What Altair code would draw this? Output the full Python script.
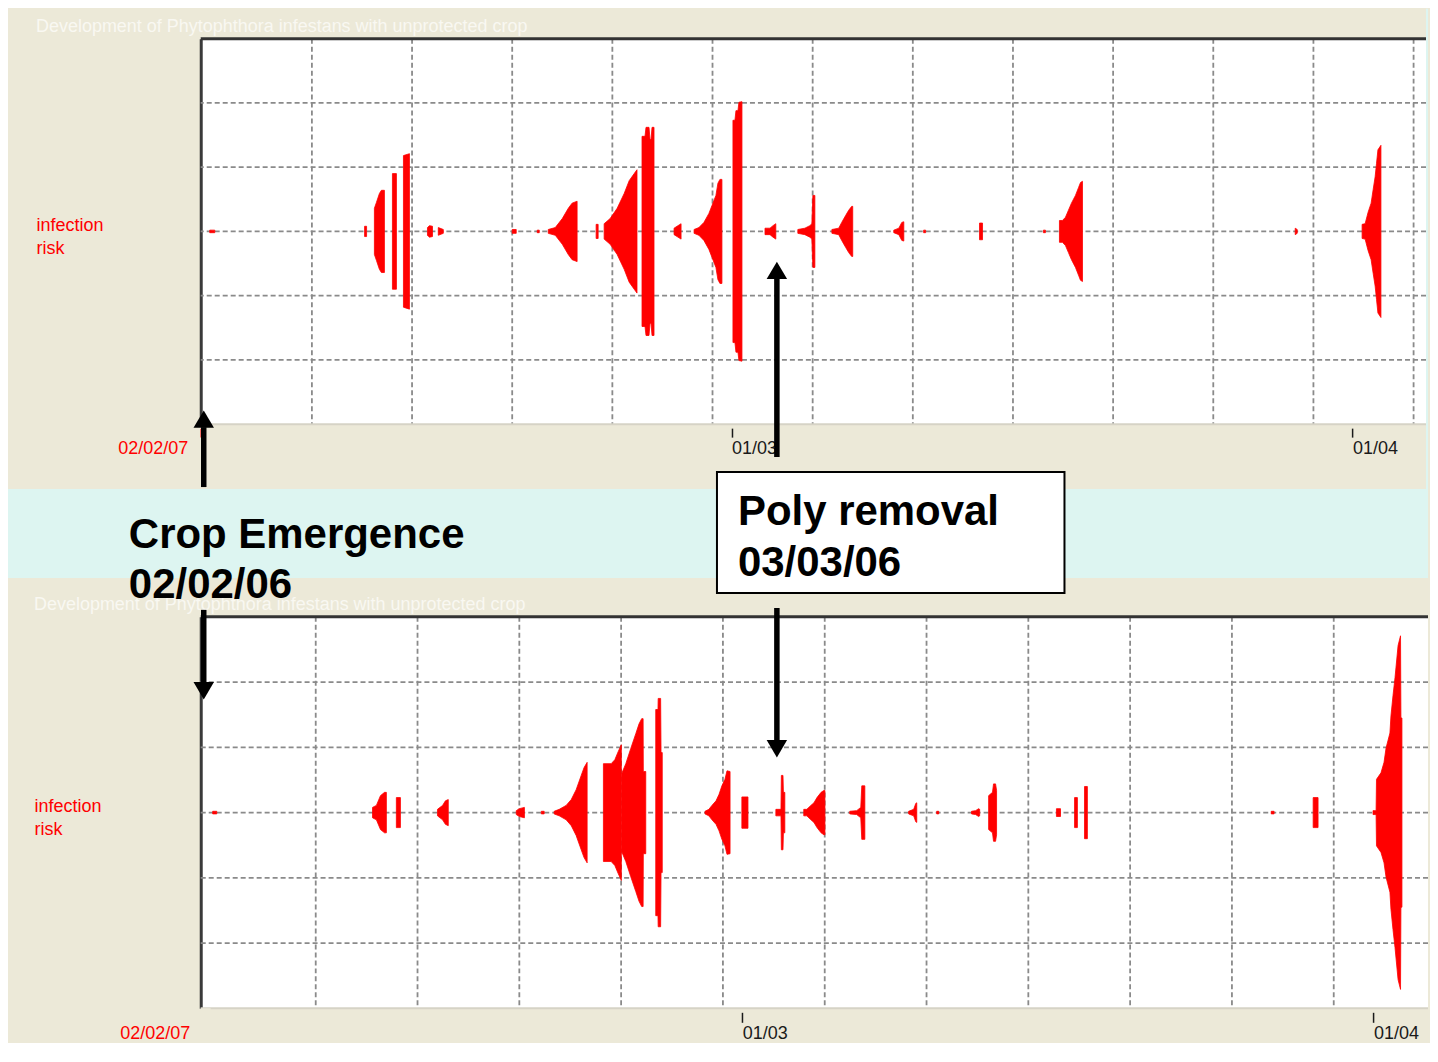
import altair as alt
import pandas as pd

# ---------------------------------------------------------------- text
PANEL_TITLE = "Development of Phytophthora infestans with unprotected crop"
Y_TITLE = ["infection", "risk"]
START_LABEL = "02/02/07"
CROP_TEXT = ["Crop Emergence", "02/02/06"]
POLY_TEXT = ["Poly removal", "03/03/06"]

# ---------------------------------------------------------------- axis values (days after 02/02 00:00)
label_days = [0.5, 27, 58]            # 02/02/07, 01/03, 01/04
grid_days = [6.05, 11.05, 16.05, 21.05, 26.05, 31.05, 36.05, 41.05, 46.05, 51.05, 56.05, 61.05]
grid_levels = [-2, -1, 0, 1, 2]

crop_emergence_day = 0.55
poly_removal_day = 28.7

# ---------------------------------------------------------------- infection risk, upper chart
# each inner list is one infection period: day, risk (drawn mirrored around 0)
top_days = [
    [0.95, 1.20], [8.68, 8.78], [9.17, 9.27, 9.42, 9.52, 9.67], [10.07, 10.27], [10.62, 10.92],
    [11.82, 11.92, 12.07], [12.36, 12.61], [16.05, 16.25], [17.30, 17.40],
    [17.85, 18.20, 18.55, 18.85, 19.04, 19.29], [20.24, 20.34],
    [20.64, 20.94, 21.29, 21.64, 21.89, 22.14, 22.28],
    [22.53, 22.68, 22.73, 22.88, 22.93, 22.98, 23.03, 23.13], [24.13, 24.28, 24.48],
    [25.13, 25.37, 25.62, 25.87, 26.02, 26.22, 26.32, 26.42, 26.52],
    [27.07, 27.17, 27.22, 27.32, 27.37, 27.52], [28.67, 28.92, 29.07, 29.21],
    [30.31, 30.66, 30.91, 31.01, 31.06, 31.16], [32.01, 32.35, 32.50, 32.70, 32.85, 33.00, 33.05],
    [35.10, 35.35, 35.50, 35.60], [36.59, 36.69], [39.38, 39.53], [42.57, 42.67],
    [43.37, 43.52, 43.67, 43.82, 43.97, 44.17, 44.32, 44.42, 44.52], [55.14, 55.24],
    [58.48, 58.63, 58.78, 58.93, 59.03, 59.13, 59.20, 59.27, 59.42],
]
top_risks = [
    [0.02, 0.02], [0.08, 0.08], [0.36, 0.45, 0.59, 0.64, 0.64], [0.90, 0.90], [1.18, 1.21],
    [0.06, 0.09, 0.08], [0.06, 0.03], [0.03, 0.03], [0.02, 0.02],
    [0.03, 0.06, 0.20, 0.36, 0.44, 0.47], [0.11, 0.11],
    [0.12, 0.20, 0.36, 0.59, 0.79, 0.90, 0.96],
    [1.48, 1.48, 1.62, 1.62, 1.43, 1.43, 1.62, 1.62], [0.05, 0.08, 0.12],
    [0.03, 0.06, 0.14, 0.28, 0.40, 0.56, 0.75, 0.81, 0.81],
    [1.73, 1.73, 1.88, 1.88, 2.01, 2.02], [0.05, 0.05, 0.09, 0.12],
    [0.03, 0.05, 0.09, 0.12, 0.56, 0.56], [0.03, 0.05, 0.14, 0.25, 0.33, 0.39, 0.39],
    [0.02, 0.05, 0.14, 0.15], [0.02, 0.02], [0.13, 0.13], [0.02, 0.02],
    [0.17, 0.17, 0.22, 0.33, 0.44, 0.56, 0.68, 0.76, 0.78], [0.05, 0.03],
    [0.11, 0.12, 0.30, 0.44, 0.65, 0.85, 1.06, 1.27, 1.34],
]

# ---------------------------------------------------------------- infection risk, lower chart
bot_days = [
    [0.99, 1.19], [8.84, 9.03, 9.23, 9.43, 9.52], [10.01, 10.21], [12.03, 12.28, 12.42, 12.56],
    [15.90, 16.05, 16.30], [17.13, 17.27], [17.76, 18.01, 18.35, 18.60, 18.84, 19.09, 19.23, 19.38],
    [20.18, 20.56, 20.74, 20.90, 21.06],
    [21.08, 21.28, 21.52, 21.77, 21.93, 22.06, 22.13, 22.14, 22.26],
    [22.75, 22.86, 22.87, 22.99, 23.01, 23.07],
    [25.17, 25.36, 25.51, 25.71, 25.86, 26.00, 26.15, 26.25, 26.40], [26.98, 27.28],
    [28.65, 28.90, 28.92, 29.00, 29.02, 29.09],
    [30.02, 30.17, 30.37, 30.52, 30.67, 30.87, 31.01, 31.06],
    [32.28, 32.62, 32.82, 32.87, 33.02], [35.17, 35.42, 35.52, 35.57], [36.55, 36.65],
    [38.26, 38.46, 38.61, 38.66], [39.10, 39.29, 39.34, 39.44, 39.49], [42.43, 42.63],
    [43.32, 43.46], [43.81, 43.95], [52.98, 53.12], [55.04, 55.28],
    [57.98, 58.13, 58.15, 58.37, 58.52, 58.62, 58.81, 58.86, 58.96, 59.06, 59.21, 59.33, 59.35, 59.40],
]
bot_risks = [
    [0.02, 0.02], [0.08, 0.11, 0.26, 0.31, 0.31], [0.23, 0.23], [0.05, 0.11, 0.18, 0.20],
    [0.03, 0.06, 0.08], [0.02, 0.02], [0.02, 0.05, 0.11, 0.20, 0.35, 0.57, 0.69, 0.77],
    [0.75, 0.75, 0.81, 0.93, 1.04],
    [0.60, 0.75, 0.98, 1.21, 1.36, 1.44, 1.44, 0.63, 0.63],
    [1.58, 1.58, 1.75, 1.75, 0.92, 0.92],
    [0.02, 0.05, 0.11, 0.18, 0.28, 0.41, 0.51, 0.64, 0.63], [0.24, 0.24],
    [0.05, 0.05, 0.57, 0.57, 0.31, 0.31],
    [0.05, 0.05, 0.11, 0.15, 0.23, 0.31, 0.34, 0.34],
    [0.02, 0.03, 0.08, 0.41, 0.41], [0.02, 0.05, 0.14, 0.15], [0.02, 0.02],
    [0.02, 0.03, 0.06, 0.05], [0.26, 0.31, 0.44, 0.44, 0.34], [0.06, 0.06],
    [0.23, 0.23], [0.40, 0.40], [0.02, 0.02], [0.23, 0.23],
    [0.03, 0.03, 0.51, 0.61, 0.77, 0.99, 1.22, 1.48, 1.79, 2.07, 2.56, 2.71, 1.45, 1.45],
]

# ---------------------------------------------------------------- styles
RED = "#ff0000"
DARK = "#1a1a1a"
BEIGE = "#ece9d8"
CYAN = "#ddf5f1"
GRID = "#8a8a8a"
FONT = "Liberation Sans"
IS_START = "datum.value < 1"


def frame(days, risks):
    rows = []
    for i, (ds, rs) in enumerate(zip(days, risks)):
        for d, r in zip(ds, rs):
            rows.append({"event": i, "day": d, "risk": r})
    return pd.DataFrame(rows)


def panel(days, risks, width, height, x_domain, title_x, ytitle_y, tick_size, extra_layers):
    xs = alt.Scale(domain=x_domain, nice=False, zero=False)
    ys = alt.Scale(domain=[-3, 3], nice=False, zero=False)

    x_axis = alt.Axis(
        values=label_days,
        labelExpr=f"datum.value < 1 ? '{START_LABEL}' : (datum.value < 40 ? '01/03' : '01/04')",
        labelColor={"condition": {"test": IS_START, "value": RED}, "value": DARK},
        labelAlign={"condition": {"test": IS_START, "value": "right"}, "value": "left"},
        labelOffset={"condition": {"test": IS_START, "value": -13}, "value": 0},
        tickColor={"condition": {"test": IS_START, "value": RED}, "value": DARK},
        tickWidth=1.5, tickSize=tick_size, offset=4, domain=False, grid=False,
        labelFont=FONT, labelFontSize=18, labelPadding=2, labelBaseline="top",
        labelFlush=False, labelOverlap=False, labelBound=False, title=None,
    )
    y_axis = alt.Axis(
        ticks=False, labels=False, grid=False, domain=True,
        domainColor="#3a3a3a", domainWidth=3,
        title=Y_TITLE, titleAngle=0, titleAlign="left", titleBaseline="alphabetic",
        titleX=title_x, titleY=ytitle_y, titleColor=RED, titleFont=FONT,
        titleFontSize=18, titleFontWeight="normal", titleLineHeight=23,
    )
    X = alt.X("day:Q", scale=xs, axis=x_axis)

    def Y(field):
        return alt.Y(field, scale=ys, axis=y_axis)

    vgrid = alt.Chart(pd.DataFrame({"day": grid_days})).mark_rule(
        color=GRID, strokeDash=[5, 3], strokeWidth=1.8, clip=True
    ).encode(x=X)
    hgrid = alt.Chart(pd.DataFrame({"level": grid_levels})).mark_rule(
        color=GRID, strokeDash=[5, 3], strokeWidth=1.8
    ).encode(y=Y("level:Q"))

    risk = alt.Chart(frame(days, risks)).transform_calculate(
        lo="-datum.risk"
    ).mark_area(
        color=RED, stroke=RED, strokeWidth=0.8, interpolate="linear", clip=True
    ).encode(x=X, y=Y("risk:Q"), y2="lo:Q", detail="event:N")

    top_border = alt.Chart(pd.DataFrame({"level": [3]})).mark_rule(
        color="#333333", strokeWidth=3
    ).encode(y=Y("level:Q"))
    bottom_border = alt.Chart(pd.DataFrame({"level": [-3]})).mark_rule(
        color="#d6d3c6", strokeWidth=2
    ).encode(y=Y("level:Q"))

    title = alt.Chart(pd.DataFrame({"t": [PANEL_TITLE]})).mark_text(
        align="left", baseline="alphabetic", font=FONT, fontSize=18, color="#f9f8f2"
    ).encode(x=alt.value(title_x), y=alt.value(-7), text="t:N")

    layers = [hgrid, vgrid, risk, top_border, bottom_border, title] + extra_layers(X, width, height)
    return alt.layer(*layers).properties(width=width, height=height)


def top_extras(X, width, height):
    band = alt.Chart(pd.DataFrame({"k": [0]})).mark_rect(color=CYAN).encode(
        x=alt.value(-193), x2=alt.value(width + 2), y=alt.value(height + 65), y2=alt.value(height + 154)
    )
    strip = alt.Chart(pd.DataFrame({"k": [0]})).mark_rect(color=CYAN).encode(
        x=alt.value(width), x2=alt.value(width + 2), y=alt.value(-30), y2=alt.value(height + 65)
    )
    return [band, strip]


HEAD_UP = "M-1,0.85L0,-0.85L1,0.85Z"
HEAD_DOWN = "M-1,-0.85L0,0.85L1,-0.85Z"


def bottom_extras(X, width, height):
    crop = pd.DataFrame({"day": [crop_emergence_day]})
    poly = pd.DataFrame({"day": [poly_removal_day]})

    def shaft(df, y1, y2):
        return alt.Chart(df).mark_rule(color="black", strokeWidth=5.5).encode(
            x=X, y=alt.value(y1), y2=alt.value(y2))

    def head(df, y, shape):
        return alt.Chart(df).mark_point(
            shape=shape, filled=True, color="black", opacity=1, size=420, strokeWidth=0
        ).encode(x=X, y=alt.value(y))

    # beige footer under the lower chart
    footer = alt.Chart(pd.DataFrame({"k": [0]})).mark_rect(color=BEIGE).encode(
        x=alt.value(0), x2=alt.value(10), y=alt.value(height), y2=alt.value(height + 32)
    )

    box = alt.Chart(poly).mark_rect(
        fill="white", stroke="black", strokeWidth=2, xOffset=-60, x2Offset=288
    ).encode(x=X, x2="day:Q", y=alt.value(-145), y2=alt.value(-24))

    crop_text = alt.Chart(crop).mark_text(
        align="left", baseline="alphabetic", font=FONT, fontSize=42,
        fontWeight="bold", color="black", lineHeight=50, dx=-75
    ).encode(x=X, y=alt.value(-69), text=alt.value(CROP_TEXT))
    poly_text = alt.Chart(poly).mark_text(
        align="left", baseline="alphabetic", font=FONT, fontSize=42,
        fontWeight="bold", color="black", lineHeight=51, dx=-39
    ).encode(x=X, y=alt.value(-92), text=alt.value(POLY_TEXT))

    return [
        footer, box, crop_text, poly_text,
        shaft(crop, -190, -130), head(crop, -198, HEAD_UP),
        shaft(crop, -7, 70), head(crop, 74, HEAD_DOWN),
        shaft(poly, -340, -160), head(poly, -347, HEAD_UP),
        shaft(poly, -9, 126), head(poly, 132, HEAD_DOWN),
    ]


top = panel(top_days, top_risks, 1227, 386, [0.5, 61.67], -165, 192, 9, top_extras)
bottom = panel(bot_days, bot_risks, 1229, 392, [0.402, 60.68], -167, 195, 10, bottom_extras)

chart = alt.vconcat(top, bottom, spacing=193, bounds="flush").properties(
    padding=0, background=BEIGE
).configure_view(fill="white", stroke=None)

chart.save("out.html", embed_options={"renderer": "svg", "actions": False})
